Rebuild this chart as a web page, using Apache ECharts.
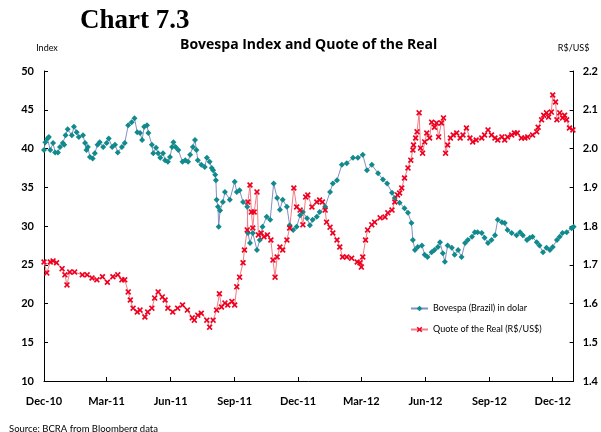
<!DOCTYPE html>
<html>
<head>
<meta charset="utf-8">
<title>Chart 7.3</title>
<script src="https://cdn.jsdelivr.net/npm/echarts@6/dist/echarts.min.js"></script>
<style>
    html, body { margin: 0; padding: 0; background: #fff; }
    #chart73 { width: 601px; height: 432px; }
</style>
</head>
<body>
<div id="chart73"></div>
<script>
// x axis ticks (quarters)
var tickDates = ['2010-12-01', '2011-03-01', '2011-06-01', '2011-09-01', '2011-12-01',
    '2012-03-01', '2012-06-01', '2012-09-01', '2012-12-01'];
var tickLabels = ['Dec-10', 'Mar-11', 'Jun-11', 'Sep-11', 'Dec-11', 'Mar-12', 'Jun-12', 'Sep-12', 'Dec-12'];

// Bovespa (Brazil) in dolar - left axis
var bovespa = [
    ['2010-12-01', 39.8], ['2010-12-03', 40.8], ['2010-12-06', 41.3], ['2010-12-08', 41.5], ['2010-12-10', 39.8],
    ['2010-12-14', 40.7], ['2010-12-17', 39.5], ['2010-12-21', 39.5], ['2010-12-24', 40.2], ['2010-12-28', 40.7],
    ['2010-12-30', 40.5], ['2011-01-01', 41.7], ['2011-01-04', 42.5], ['2011-01-10', 41.7], ['2011-01-13', 42.8],
    ['2011-01-17', 42.1], ['2011-01-20', 41.5], ['2011-01-26', 41.7], ['2011-01-29', 40.7], ['2011-01-31', 39.8],
    ['2011-02-02', 40.2], ['2011-02-05', 38.9], ['2011-02-09', 38.7], ['2011-02-12', 39.4], ['2011-02-16', 40.5],
    ['2011-02-19', 40.8], ['2011-02-24', 40.2], ['2011-03-01', 40.7], ['2011-03-04', 41.3], ['2011-03-09', 40.2],
    ['2011-03-13', 40.5], ['2011-03-17', 39.5], ['2011-03-23', 40.2], ['2011-03-27', 40.7], ['2011-04-01', 43.0],
    ['2011-04-06', 43.4], ['2011-04-10', 43.9], ['2011-04-14', 42.1], ['2011-04-18', 42.0], ['2011-04-21', 41.1],
    ['2011-04-24', 42.8], ['2011-04-28', 43.0], ['2011-04-30', 42.0], ['2011-05-05', 40.5], ['2011-05-07', 39.4],
    ['2011-05-11', 40.1], ['2011-05-14', 39.4], ['2011-05-17', 38.8], ['2011-05-21', 39.4], ['2011-05-24', 38.5],
    ['2011-05-28', 38.3], ['2011-05-31', 38.9], ['2011-06-03', 40.2], ['2011-06-05', 40.8], ['2011-06-08', 40.2],
    ['2011-06-12', 39.8], ['2011-06-18', 38.3], ['2011-06-22', 38.5], ['2011-06-26', 38.3], ['2011-06-29', 39.2],
    ['2011-07-03', 40.2], ['2011-07-06', 41.1], ['2011-07-08', 39.8], ['2011-07-10', 38.5], ['2011-07-15', 37.9],
    ['2011-07-20', 37.6], ['2011-07-23', 38.8], ['2011-07-27', 38.3], ['2011-07-30', 37.5], ['2011-08-01', 37.2],
    ['2011-08-04', 36.6], ['2011-08-05', 35.9], ['2011-08-06', 33.4], ['2011-08-08', 32.5], ['2011-08-09', 29.9],
    ['2011-08-11', 32.0], ['2011-08-15', 33.1], ['2011-08-18', 34.4], ['2011-08-25', 33.4], ['2011-09-01', 35.7],
    ['2011-09-04', 34.4], ['2011-09-08', 34.6], ['2011-09-13', 33.1], ['2011-09-19', 32.5], ['2011-09-20', 29.1],
    ['2011-09-23', 27.8], ['2011-09-27', 29.1], ['2011-10-03', 26.9], ['2011-10-07', 28.2], ['2011-10-11', 29.9],
    ['2011-10-17', 31.2], ['2011-10-22', 30.8], ['2011-10-27', 35.5], ['2011-11-01', 33.6], ['2011-11-05', 32.1],
    ['2011-11-09', 33.4], ['2011-11-15', 32.5], ['2011-11-19', 30.1], ['2011-11-24', 29.5], ['2011-11-29', 29.9],
    ['2011-12-04', 31.4], ['2011-12-08', 31.8], ['2011-12-14', 31.0], ['2011-12-18', 30.1], ['2011-12-22', 30.8],
    ['2011-12-28', 31.2], ['2012-01-01', 31.8], ['2012-01-09', 32.5], ['2012-01-16', 34.4], ['2012-01-20', 35.5],
    ['2012-01-26', 35.9], ['2012-02-02', 37.9], ['2012-02-09', 38.1], ['2012-02-18', 38.8], ['2012-02-25', 38.8],
    ['2012-03-03', 39.2], ['2012-03-09', 37.2], ['2012-03-16', 37.9], ['2012-03-25', 36.8], ['2012-04-01', 36.0],
    ['2012-04-07', 35.5], ['2012-04-14', 34.3], ['2012-04-18', 33.6], ['2012-04-25', 33.0], ['2012-05-02', 32.3],
    ['2012-05-07', 31.7], ['2012-05-12', 30.4], ['2012-05-14', 28.2], ['2012-05-17', 26.9], ['2012-05-21', 27.3],
    ['2012-05-27', 27.5], ['2012-05-31', 26.3], ['2012-06-04', 26.0], ['2012-06-10', 26.6], ['2012-06-14', 26.9],
    ['2012-06-19', 27.3], ['2012-06-22', 27.9], ['2012-06-26', 26.5], ['2012-06-29', 25.4], ['2012-07-03', 27.5],
    ['2012-07-09', 27.2], ['2012-07-13', 26.3], ['2012-07-18', 26.9], ['2012-07-23', 26.0], ['2012-07-28', 27.8],
    ['2012-08-01', 28.2], ['2012-08-07', 28.6], ['2012-08-11', 29.2], ['2012-08-15', 29.2], ['2012-08-21', 29.1],
    ['2012-08-25', 28.5], ['2012-08-30', 27.8], ['2012-09-04', 28.2], ['2012-09-09', 28.8], ['2012-09-13', 30.8],
    ['2012-09-19', 30.5], ['2012-09-23', 30.4], ['2012-09-27', 29.5], ['2012-10-03', 29.1], ['2012-10-10', 28.8],
    ['2012-10-15', 29.2], ['2012-10-19', 28.8], ['2012-10-25', 28.2], ['2012-10-29', 28.5], ['2012-11-02', 28.6],
    ['2012-11-08', 27.9], ['2012-11-12', 27.5], ['2012-11-17', 26.6], ['2012-11-22', 27.2], ['2012-11-27', 26.9],
    ['2012-12-01', 27.3], ['2012-12-07', 28.2], ['2012-12-11', 28.6], ['2012-12-15', 29.1], ['2012-12-21', 29.2],
    ['2012-12-28', 29.7], ['2012-12-31', 29.9]
];

// Quote of the Real (R$/US$) - right axis
var real = [
    ['2010-12-01', 1.707], ['2010-12-05', 1.679], ['2010-12-10', 1.707], ['2010-12-14', 1.710], ['2010-12-19', 1.705],
    ['2010-12-27', 1.690], ['2010-12-31', 1.674], ['2011-01-03', 1.648], ['2011-01-07', 1.681], ['2011-01-14', 1.681],
    ['2011-01-25', 1.674], ['2011-02-01', 1.674], ['2011-02-08', 1.666], ['2011-02-15', 1.661], ['2011-02-23', 1.669],
    ['2011-03-02', 1.655], ['2011-03-10', 1.669], ['2011-03-17', 1.674], ['2011-03-23', 1.661], ['2011-03-27', 1.661],
    ['2011-04-01', 1.630], ['2011-04-04', 1.609], ['2011-04-08', 1.588], ['2011-04-14', 1.578], ['2011-04-18', 1.583],
    ['2011-04-25', 1.565], ['2011-04-29', 1.578], ['2011-05-05', 1.588], ['2011-05-09', 1.614], ['2011-05-14', 1.630],
    ['2011-05-20', 1.617], ['2011-05-24', 1.609], ['2011-05-28', 1.588], ['2011-06-04', 1.578], ['2011-06-11', 1.588],
    ['2011-06-18', 1.596], ['2011-06-25', 1.583], ['2011-07-02', 1.563], ['2011-07-05', 1.557], ['2011-07-10', 1.570],
    ['2011-07-15', 1.575], ['2011-07-23', 1.557], ['2011-07-27', 1.539], ['2011-08-01', 1.557], ['2011-08-06', 1.583],
    ['2011-08-10', 1.625], ['2011-08-13', 1.591], ['2011-08-18', 1.601], ['2011-08-22', 1.596], ['2011-08-28', 1.605],
    ['2011-09-01', 1.596], ['2011-09-04', 1.643], ['2011-09-08', 1.668], ['2011-09-13', 1.705], ['2011-09-15', 1.738],
    ['2011-09-19', 1.790], ['2011-09-20', 1.862], ['2011-09-23', 1.906], ['2011-09-25', 1.836], ['2011-09-27', 1.795],
    ['2011-09-29', 1.836], ['2011-10-03', 1.888], ['2011-10-05', 1.777], ['2011-10-09', 1.782], ['2011-10-13', 1.772],
    ['2011-10-18', 1.777], ['2011-10-23', 1.764], ['2011-10-26', 1.712], ['2011-10-29', 1.668], ['2011-11-01', 1.720],
    ['2011-11-05', 1.746], ['2011-11-09', 1.738], ['2011-11-15', 1.764], ['2011-11-19', 1.795], ['2011-11-25', 1.898],
    ['2011-11-29', 1.849], ['2011-12-04', 1.841], ['2011-12-08', 1.803], ['2011-12-12', 1.875], ['2011-12-15', 1.880],
    ['2011-12-21', 1.849], ['2011-12-28', 1.862], ['2012-01-01', 1.867], ['2012-01-05', 1.862], ['2012-01-09', 1.841],
    ['2012-01-11', 1.810], ['2012-01-16', 1.797], ['2012-01-20', 1.782], ['2012-01-26', 1.764], ['2012-01-30', 1.746],
    ['2012-02-03', 1.720], ['2012-02-09', 1.720], ['2012-02-16', 1.717], ['2012-02-24', 1.707], ['2012-02-28', 1.705],
    ['2012-03-01', 1.694], ['2012-03-03', 1.720], ['2012-03-07', 1.764], ['2012-03-10', 1.790], ['2012-03-16', 1.803],
    ['2012-03-20', 1.810], ['2012-03-28', 1.821], ['2012-04-04', 1.823], ['2012-04-08', 1.834], ['2012-04-14', 1.841],
    ['2012-04-18', 1.862], ['2012-04-22', 1.880], ['2012-04-25', 1.885], ['2012-04-28', 1.898], ['2012-05-02', 1.924],
    ['2012-05-07', 1.950], ['2012-05-11', 1.970], ['2012-05-14', 1.996], ['2012-05-15', 2.009], ['2012-05-18', 2.027],
    ['2012-05-20', 2.043], ['2012-05-23', 2.092], ['2012-05-25', 2.001], ['2012-05-28', 1.988], ['2012-05-31', 2.017],
    ['2012-06-03', 2.040], ['2012-06-07', 2.027], ['2012-06-10', 2.068], ['2012-06-14', 2.055], ['2012-06-17', 2.066],
    ['2012-06-20', 2.030], ['2012-06-24', 2.066], ['2012-06-27', 2.079], ['2012-06-30', 1.988], ['2012-07-03', 2.009],
    ['2012-07-07', 2.027], ['2012-07-11', 2.035], ['2012-07-16', 2.040], ['2012-07-21', 2.027], ['2012-07-25', 2.035],
    ['2012-07-30', 2.053], ['2012-08-04', 2.027], ['2012-08-08', 2.017], ['2012-08-13', 2.022], ['2012-08-21', 2.027],
    ['2012-08-25', 2.035], ['2012-08-30', 2.048], ['2012-09-04', 2.035], ['2012-09-09', 2.027], ['2012-09-13', 2.022],
    ['2012-09-19', 2.030], ['2012-09-23', 2.022], ['2012-09-27', 2.030], ['2012-10-03', 2.035], ['2012-10-07', 2.040],
    ['2012-10-11', 2.040], ['2012-10-17', 2.027], ['2012-10-22', 2.027], ['2012-10-26', 2.030], ['2012-11-02', 2.035],
    ['2012-11-08', 2.043], ['2012-11-10', 2.055], ['2012-11-15', 2.074], ['2012-11-18', 2.086], ['2012-11-22', 2.092],
    ['2012-11-25', 2.081], ['2012-11-29', 2.094], ['2012-12-01', 2.138], ['2012-12-05', 2.120], ['2012-12-07', 2.074],
    ['2012-12-11', 2.092], ['2012-12-15', 2.079], ['2012-12-18', 2.086], ['2012-12-21', 2.074], ['2012-12-25', 2.053],
    ['2012-12-30', 2.048]
];

var xMin = '2010-12-01';
var xMax = '2012-12-31';

function toTime(s) {
    var p = s.split('-');
    return new Date(+p[0], +p[1] - 1, +p[2]).getTime();
}

function toSeries(list) {
    var out = [];
    for (var i = 0; i < list.length; i++) {
        out.push([toTime(list[i][0]), list[i][1]]);
    }
    return out;
}

function tickLabel(v) {
    for (var i = 0; i < tickDates.length; i++) {
        if (Math.abs(toTime(tickDates[i]) - v) < 43200000) return tickLabels[i];
    }
    return '';
}

load();

function load() {
    var myChart = echarts.init(document.getElementById('chart73'));
    var ticks = tickDates.map(toTime);
    var sans = 'Lato';
    // bold "x" marker
    var xMark = 'path://M0,2L2,0L5,3L8,0L10,2L7,5L10,8L8,10L5,7L2,10L0,8L3,5Z';

    var option = {
        animation: false,
        backgroundColor: '#fff',
        title: [{
            text: 'Chart 7.3',
            left: 75,
            top: 3,
            textStyle: { fontFamily: 'Liberation Serif', fontWeight: 'bold', fontSize: 27, color: '#000' }
        }, {
            text: 'Bovespa Index and Quote of the Real',
            left: 175,
            top: 33,
            textStyle: { fontFamily: 'Open Sans', fontWeight: 'bold', fontSize: 14, color: '#000' }
        }, {
            text: 'Source: BCRA from Bloomberg data',
            left: 4,
            top: 419,
            textStyle: { fontFamily: sans, fontWeight: 'normal', fontSize: 9.5, color: '#000' }
        }],
        legend: {
            orient: 'vertical',
            left: 405,
            top: 299,
            itemGap: 12,
            itemWidth: 17,
            itemHeight: 7,
            selectedMode: false,
            textStyle: { fontFamily: sans, fontSize: 9, color: '#000' },
            data: ['Bovespa (Brazil) in dolar', 'Quote of the Real (R$/US$)']
        },
        grid: {
            left: 44,
            right: 27,
            top: 71,
            bottom: 51,
            containLabel: false
        },
        // 时间轴用数值轴 + 自定义刻度
        xAxis: {
            type: 'value',
            min: toTime(xMin),
            max: toTime(xMax),
            axisLine: { show: true, lineStyle: { color: '#000', width: 1 } },
            axisTick: { show: true, inside: true, length: 4, customValues: ticks, lineStyle: { color: '#000' } },
            axisLabel: {
                customValues: ticks,
                formatter: function (v) { return tickLabel(v); },
                fontFamily: sans,
                fontWeight: 'bold',
                fontSize: 11,
                color: '#000',
                margin: 15
            },
            splitLine: { show: false }
        },
        yAxis: [{
            type: 'value',
            min: 10,
            max: 50,
            interval: 5,
            name: 'Index',
            nameLocation: 'end',
            nameGap: 18,
            nameTextStyle: { fontFamily: sans, fontSize: 9, color: '#000', align: 'center', padding: [0, 0, 0, 6] },
            axisLine: { show: true, lineStyle: { color: '#000', width: 1 } },
            axisTick: { show: true, inside: true, length: 4, lineStyle: { color: '#000' } },
            axisLabel: { fontFamily: sans, fontWeight: 'bold', fontSize: 11, color: '#000', margin: 10 },
            splitLine: { show: false }
        }, {
            type: 'value',
            min: 1.4,
            max: 2.2,
            interval: 0.1,
            position: 'right',
            name: 'R$/US$',
            nameLocation: 'end',
            nameGap: 18,
            nameTextStyle: { fontFamily: sans, fontSize: 9, color: '#000', align: 'center' },
            axisLine: { show: true, lineStyle: { color: '#000', width: 1 } },
            axisTick: { show: true, inside: true, length: 4, lineStyle: { color: '#000' } },
            axisLabel: {
                fontFamily: sans, fontWeight: 'bold', fontSize: 11, color: '#000', margin: 9,
                formatter: function (v) { return v.toFixed(1); }
            },
            splitLine: { show: false }
        }],
        series: [{
            name: 'Bovespa (Brazil) in dolar',
            type: 'line',
            yAxisIndex: 0,
            symbol: 'diamond',
            symbolSize: 6,
            lineStyle: { color: '#8490c0', width: 1 },
            itemStyle: { color: '#108a8c' },
            data: toSeries(bovespa)
        }, {
            name: 'Quote of the Real (R$/US$)',
            type: 'line',
            yAxisIndex: 1,
            symbol: xMark,
            symbolSize: 6,
            lineStyle: { color: '#f47c84', width: 1 },
            itemStyle: { color: '#f00020' },
            data: toSeries(real)
        }]
    };
    myChart.setOption(option);
}
</script>
</body>
</html>
